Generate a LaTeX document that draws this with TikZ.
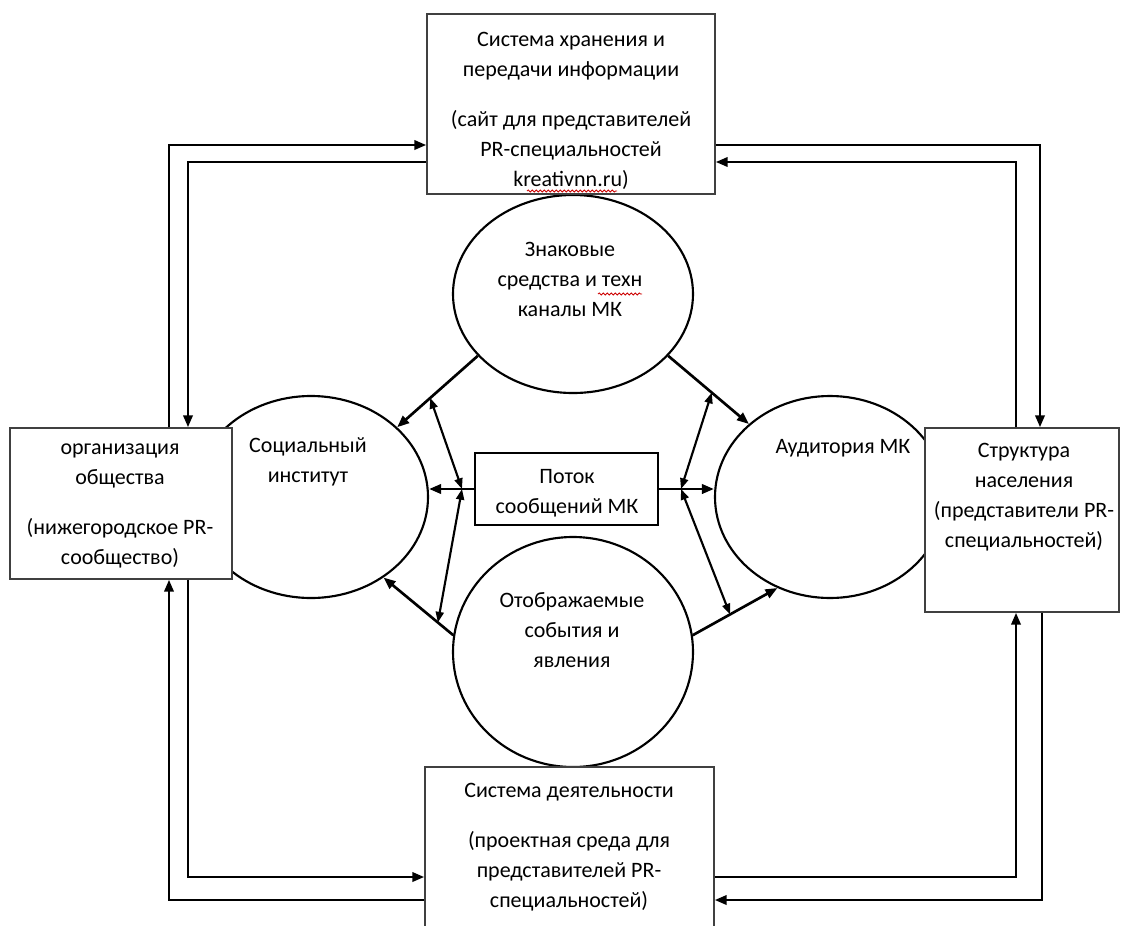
\documentclass[tikz,border=0pt]{standalone}
\usepackage{fontspec}
\setmainfont{Carlito}
\usetikzlibrary{shapes.geometric,arrows.meta,calc,decorations.pathmorphing}

\tikzset{every picture/.style={line width=0.75pt}}
\tikzset{
  box/.style={draw=black!75, line width=1.1pt, fill=white, inner sep=0pt},
  oval/.style={ellipse, draw, line width=1.6pt, inner sep=0pt},
  txt/.style={align=center, inner sep=0pt, font=\fontsize{16.5}{22.5}\selectfont},
  conn/.style={line width=2pt, -{Triangle[length=9pt,width=7pt]}},
  twoway/.style={line width=1.6pt, {Triangle[length=8pt,width=6pt]}-{Triangle[length=8pt,width=6pt]}},
  squiggle/.style={draw=red!80!black, line width=0.6pt, decorate, decoration={snake, amplitude=0.8pt, segment length=3pt}}
}

\begin{document}
\begin{tikzpicture}[x=0.75pt,y=0.75pt,yscale=-1,xscale=1]
\useasboundingbox (0,0) rectangle (1121,925);

%Ellipses
\node[oval, minimum width=180pt, minimum height=148.5pt] (signs) at (573,294) {};
\node[oval, minimum width=175.5pt, minimum height=151.5pt] (inst) at (311,497) {};
\node[oval, minimum width=172.5pt, minimum height=151.5pt] (audience) at (830,497) {};
\node[oval, minimum width=180pt, minimum height=172.5pt] (events) at (573,652) {};

%Rectangles
\node[box, minimum width=216pt, minimum height=135pt] (store) at (571,104) {};
\node[box, minimum width=166.5pt, minimum height=113.25pt] (org) at (121,503.5) {};
\node[box, minimum width=145.5pt, minimum height=138pt] (struct) at (1022,520) {};
\node[box, minimum width=216.75pt, minimum height=137.25pt] (activ) at (569.5,858.5) {};
\node[box, draw=black, line width=1.5pt, minimum width=137.25pt, minimum height=54pt] (flow) at (566.5,489) {};

%Straight Lines (inner part)
\coordinate (pl) at ($(flow.west)+(-12,0)$);
\coordinate (pr) at ($(flow.east)+(22,0)$);
\coordinate (j1) at ($(signs.213)!0.59!(inst.39)$);
\coordinate (j2) at ($(events.172)!0.22!(inst.-48)$);
\coordinate (j3) at ($(signs.-33)!0.54!(audience.138)$);
\coordinate (j4) at ($(events.8)!0.44!(audience.240)$);
\draw[conn] (signs.213) -- (inst.39);
\draw[conn] (events.172) -- (inst.-48);
\draw[conn] (flow.west) -- (flow.west -| inst.east);
\draw[twoway] (j1) -- (pl);
\draw[twoway] (pl) -- (j2);
\draw[conn] (signs.-33) -- (audience.138);
\draw[conn] (events.8) -- (audience.240);
\draw[conn] (flow.east) -- (flow.east -| audience.west);
\draw[twoway] (j3) -- (pr);
\draw[twoway] (pr) -- (j4);

%Straight Lines (outer loops)
\coordinate (lo) at (169,145);
\coordinate (li) at (188,162);
\coordinate (lbo) at (169,900);
\coordinate (lbi) at (188,877);
\coordinate (ro) at (1040,145);
\coordinate (ri) at (1016,162);
\coordinate (rbo) at (1042,900);
\coordinate (rbi) at (1016,877);
\draw[conn] (org.north -| lo) |- (store.west |- lo);
\draw[conn] (store.west |- li) -| (org.north -| li);
\draw[conn] (activ.west |- lbo) -| (org.south -| lbo);
\draw[conn] (org.south -| lbi) |- (activ.west |- lbi);
\draw[conn] (store.east |- ro) -| (struct.north -| ro);
\draw[conn] (struct.north -| ri) |- (store.east |- ri);
\draw[conn] (struct.south -| rbo) |- (activ.east |- rbo);
\draw[conn] (activ.east |- rbi) -| (struct.south -| rbi);

% Text Node
\node[txt] (store-txt) at (571,111) {Система хранения и\\передачи информации\\[15pt](сайт для представителей\\PR-специальностей\\kreativnn.ru)};
% Text Node
\node[txt] (signs-txt) at (570,279) {Знаковые\\средства и техн\\каналы МК};
% Text Node
\node[txt] (inst-txt) at (308,462) {Социальный\\институт};
% Text Node
\node[txt] (org-txt) at (120,506) {организация\\общества\\[15pt](нижегородское PR-\\сообщество)};
% Text Node
\node[txt] (flow-txt) at (567,493) {Поток\\сообщений МК};
% Text Node
\node[txt] (audience-txt) at (843,448) {Аудитория МК};
% Text Node
\node[txt] (struct-txt) at (1024,497) {Структура\\населения\\(представители PR-\\специальностей)};
% Text Node
\node[txt] (events-txt) at (572,630) {Отображаемые\\события и\\явления};
% Text Node
\node[txt] (activ-txt) at (569,847) {Система деятельности\\[15pt](проектная среда для\\представителей PR-\\специальностей)};

%spell-check marks
\draw[squiggle] (527,191) -- (617,191);
\draw[squiggle] (598,294) -- (642,294);

\end{tikzpicture}
\end{document}
